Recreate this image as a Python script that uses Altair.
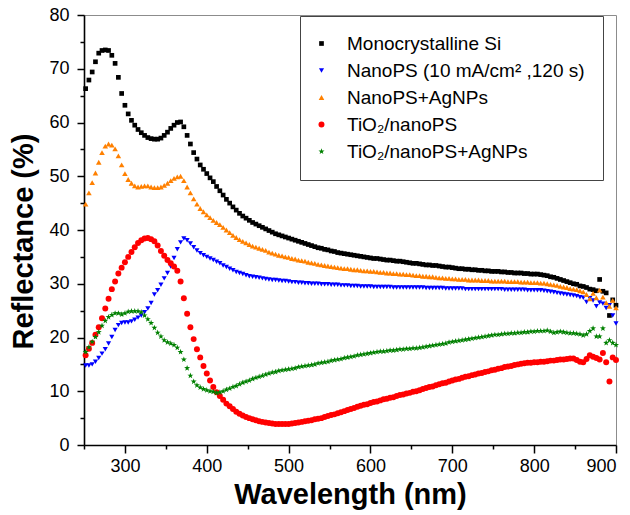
import altair as alt
import pandas as pd

# Sampling grid (nm), one reading every 4 nm
wavelength = list(range(252, 901, 4))

# Reflectance (%) for each sample
mono_si = [
    66.3, 67.9, 69.4, 71.3, 72.9, 73.4, 73.5, 73.4, 72.5, 71.0,
    68.4, 65.4, 63.2, 61.6, 60.4, 59.5, 58.7, 58.1, 57.6, 57.2,
    57.0, 56.9, 56.9, 57.1, 57.6, 58.2, 58.9, 59.5, 60.0, 60.1,
    59.2, 57.6, 56.0, 54.4, 53.2, 52.1, 51.3, 50.5, 49.7, 49.0,
    48.1, 47.3, 46.5, 45.7, 45.0, 44.3, 43.7, 43.1, 42.6, 42.2,
    41.8, 41.4, 41.1, 40.8, 40.5, 40.2, 39.9, 39.6, 39.3, 39.1,
    38.9, 38.7, 38.5, 38.3, 38.1, 37.9, 37.7, 37.5, 37.3, 37.1,
    36.9, 36.7, 36.6, 36.4, 36.3, 36.1, 36.0, 35.8, 35.7, 35.6,
    35.5, 35.4, 35.3, 35.2, 35.1, 35.0, 34.9, 34.8, 34.7, 34.7,
    34.6, 34.5, 34.4, 34.4, 34.3, 34.2, 34.2, 34.1, 34.0, 33.9,
    33.8, 33.8, 33.7, 33.6, 33.5, 33.5, 33.4, 33.4, 33.3, 33.2,
    33.1, 33.1, 33.0, 32.9, 32.8, 32.8, 32.7, 32.7, 32.6, 32.6,
    32.5, 32.5, 32.4, 32.4, 32.3, 32.3, 32.3, 32.2, 32.2, 32.1,
    32.1, 32.0, 32.0, 32.0, 31.9, 31.9, 31.8, 31.8, 31.8, 31.7,
    31.6, 31.5, 31.3, 31.2, 31.0, 30.8, 30.6, 30.4, 30.2, 30.0,
    29.9, 29.6, 29.5, 29.3, 29.0, 28.9, 28.7, 30.8, 28.6, 28.3,
    24.1, 27.0, 26.0,
]

nanops = [
    14.8, 14.8, 15.0, 15.5, 16.2, 17.0, 17.8, 18.9, 20.1, 21.4,
    22.3, 22.7, 22.8, 22.8, 23.0, 23.3, 23.7, 24.1, 24.7, 25.4,
    26.4, 28.0, 28.8, 29.8, 31.0, 32.0, 33.2, 34.8, 36.4, 37.7,
    38.4, 38.1, 37.5, 36.8, 36.2, 35.7, 35.3, 35.0, 34.7, 34.4,
    34.1, 33.8, 33.4, 33.1, 32.8, 32.5, 32.2, 32.0, 31.8, 31.6,
    31.4, 31.3, 31.2, 31.1, 31.0, 30.9, 30.8, 30.7, 30.7, 30.6,
    30.5, 30.5, 30.4, 30.3, 30.3, 30.2, 30.2, 30.1, 30.1, 30.0,
    30.0, 30.0, 29.9, 29.9, 29.9, 29.8, 29.8, 29.8, 29.7, 29.7,
    29.7, 29.6, 29.6, 29.6, 29.5, 29.5, 29.5, 29.5, 29.4, 29.4,
    29.4, 29.4, 29.4, 29.4, 29.3, 29.3, 29.3, 29.3, 29.3, 29.3,
    29.3, 29.3, 29.3, 29.3, 29.2, 29.2, 29.2, 29.2, 29.2, 29.2,
    29.1, 29.1, 29.1, 29.1, 29.1, 29.1, 29.0, 29.0, 29.0, 29.0,
    29.0, 29.0, 29.0, 29.0, 29.0, 29.0, 29.0, 29.0, 28.9, 28.9,
    28.9, 28.9, 28.9, 28.9, 28.9, 28.8, 28.8, 28.8, 28.8, 28.8,
    28.7, 28.6, 28.5, 28.4, 28.3, 28.2, 28.1, 28.0, 27.9, 27.8,
    27.7, 27.5, 27.4, 26.6, 27.3, 26.9, 25.8, 26.5, 26.3, 25.5,
    26.0, 24.1, 22.6,
]

nanops_ag = [
    44.8, 46.9, 48.8, 50.6, 52.6, 54.4, 55.6, 56.0, 55.8, 55.1,
    53.8, 52.1, 50.5, 49.4, 48.7, 48.2, 48.0, 48.1, 48.2, 48.2,
    48.0, 47.9, 47.9, 48.0, 48.3, 48.7, 49.2, 49.6, 49.9, 50.0,
    49.2, 48.0, 46.9, 45.8, 44.8, 44.0, 43.4, 42.8, 42.3, 41.8,
    41.4, 41.0, 40.5, 40.0, 39.5, 39.0, 38.6, 38.2, 37.9, 37.6,
    37.3, 37.0, 36.8, 36.6, 36.4, 36.2, 35.9, 35.7, 35.5, 35.3,
    35.2, 35.0, 34.9, 34.7, 34.6, 34.4, 34.3, 34.2, 34.0, 33.9,
    33.8, 33.6, 33.5, 33.4, 33.3, 33.2, 33.1, 33.0, 32.9, 32.8,
    32.8, 32.7, 32.6, 32.6, 32.5, 32.4, 32.4, 32.3, 32.3, 32.2,
    32.1, 32.1, 32.0, 32.0, 31.9, 31.9, 31.8, 31.8, 31.7, 31.7,
    31.6, 31.5, 31.5, 31.4, 31.4, 31.3, 31.3, 31.2, 31.1, 31.1,
    31.0, 31.0, 30.9, 30.9, 30.8, 30.8, 30.8, 30.7, 30.7, 30.7,
    30.7, 30.6, 30.6, 30.6, 30.5, 30.5, 30.5, 30.5, 30.5, 30.4,
    30.4, 30.4, 30.4, 30.3, 30.3, 30.3, 30.2, 30.2, 30.2, 30.1,
    30.1, 30.0, 29.9, 29.8, 29.7, 29.5, 29.4, 29.3, 29.1, 29.0,
    28.9, 28.7, 28.5, 28.0, 27.2, 28.2, 27.4, 28.8, 27.5, 26.5,
    25.8, 26.9, 25.5,
]

tio2_nanops = [
    16.7, 17.9, 19.0, 20.5, 21.9, 23.6, 25.4, 27.2, 29.0, 30.4,
    31.9, 33.0, 34.0, 35.0, 35.9, 36.8, 37.6, 38.1, 38.4, 38.5,
    38.3, 37.9, 37.1, 36.1, 35.2, 34.4, 33.8, 33.2, 32.4, 30.4,
    27.3, 24.4, 21.9, 19.7, 17.8, 16.3, 14.7, 13.3, 12.0, 10.8,
    9.8, 9.1, 8.4, 7.7, 7.2, 6.7, 6.2, 5.8, 5.5, 5.2,
    5.0, 4.8, 4.6, 4.4, 4.3, 4.2, 4.1, 4.0, 3.9, 3.9,
    3.9, 3.9, 3.9, 4.0, 4.1, 4.2, 4.3, 4.4, 4.5, 4.6,
    4.8, 4.9, 5.0, 5.2, 5.4, 5.6, 5.7, 5.9, 6.1, 6.3,
    6.5, 6.7, 6.9, 7.1, 7.3, 7.5, 7.6, 7.8, 8.0, 8.1,
    8.3, 8.5, 8.6, 8.8, 8.9, 9.1, 9.3, 9.4, 9.6, 9.7,
    9.9, 10.0, 10.2, 10.4, 10.6, 10.8, 10.9, 11.1, 11.3, 11.5,
    11.6, 11.8, 12.0, 12.2, 12.3, 12.5, 12.7, 12.8, 13.0, 13.1,
    13.3, 13.4, 13.6, 13.7, 13.9, 14.0, 14.2, 14.3, 14.5, 14.6,
    14.7, 14.9, 15.0, 15.1, 15.2, 15.3, 15.3, 15.4, 15.4, 15.5,
    15.5, 15.6, 15.7, 15.7, 15.8, 15.9, 15.9, 16.0, 16.1, 16.1,
    15.8, 15.5, 15.4, 16.0, 16.7, 16.4, 16.2, 15.9, 17.1, 15.4,
    11.8, 16.3, 15.8,
]

tio2_nanops_ag = [
    17.3, 18.2, 19.2, 20.1, 21.0, 22.2, 23.1, 23.8, 24.2, 24.5,
    24.5, 24.3, 24.5, 24.8, 24.9, 24.9, 24.9, 24.7, 24.1, 23.4,
    22.7, 21.8, 20.9, 20.2, 19.5, 19.1, 18.9, 18.6, 18.1, 17.3,
    15.9, 14.3, 12.9, 11.8, 11.1, 10.7, 10.4, 10.2, 10.0, 9.9,
    9.7, 9.8, 10.0, 10.3, 10.5, 10.8, 11.0, 11.3, 11.6, 11.8,
    12.0, 12.3, 12.5, 12.7, 12.9, 13.1, 13.3, 13.5, 13.6, 13.8,
    13.9, 14.0, 14.1, 14.2, 14.3, 14.5, 14.6, 14.7, 14.8, 14.9,
    15.0, 15.2, 15.3, 15.4, 15.5, 15.7, 15.8, 15.9, 16.0, 16.2,
    16.3, 16.4, 16.5, 16.7, 16.8, 16.9, 17.0, 17.1, 17.2, 17.3,
    17.4, 17.4, 17.5, 17.6, 17.6, 17.7, 17.8, 17.8, 17.9, 17.9,
    18.0, 18.0, 18.1, 18.2, 18.3, 18.4, 18.5, 18.6, 18.7, 18.8,
    18.9, 19.1, 19.2, 19.3, 19.4, 19.5, 19.6, 19.7, 19.8, 19.9,
    20.0, 20.1, 20.2, 20.3, 20.4, 20.5, 20.5, 20.6, 20.7, 20.7,
    20.8, 20.8, 20.9, 20.9, 21.0, 21.0, 21.1, 21.1, 21.2, 21.2,
    21.2, 21.3, 21.1, 20.9, 21.0, 21.1, 21.0, 20.9, 20.8, 20.8,
    20.7, 20.6, 20.4, 20.6, 21.2, 21.7, 20.2, 20.2, 21.7, 19.0,
    19.5, 19.0, 18.6,
]

series_names = [
    "Monocrystalline Si",
    "NanoPS (10 mA/cm² ,120 s)",
    "NanoPS+AgNPs",
    "TiO₂/nanoPS",
    "TiO₂/nanoPS+AgNPs",
]
series_values = [mono_si, nanops, nanops_ag, tio2_nanops, tio2_nanops_ag]
series_colors = ["#000000", "#0000FF", "#FF8000", "#FF0000", "#008000"]
STAR = ("M0,-1L0.235,-0.324L0.951,-0.309L0.38,0.124L0.588,0.809L0,0.4"
        "L-0.588,0.809L-0.38,0.124L-0.951,-0.309L-0.235,-0.324Z")
series_shapes = ["square", "triangle-down", "triangle-up", "circle", STAR]
series_sizes = [22, 40, 40, 24, 50]

x_ticks = list(range(250, 901, 50))
y_ticks = list(range(0, 81, 5))

rows = []
for order, (name, values) in enumerate(zip(series_names, series_values)):
    assert len(values) == len(wavelength), name
    for wl, r in zip(wavelength, values):
        rows.append({"series": name, "order": order, "wavelength": wl, "reflectance": r})
df = pd.DataFrame(rows)

FONT = "Liberation Sans"

legend = alt.Legend(
    orient="none", legendX=216, legendY=1,
    strokeColor="#444444", padding=18,
    labelFont=FONT, labelFontSize=19, labelColor="black",
    labelOffset=16, symbolOffset=-6, rowPadding=7, labelLimit=400,
)

points = alt.Chart(df).mark_point(filled=True, opacity=1).encode(
    x=alt.X(
        "wavelength:Q",
        scale=alt.Scale(domain=[250, 900], nice=False, zero=False),
        axis=alt.Axis(
            title="Wavelength (nm)", values=x_ticks,
            labelExpr="datum.value % 100 === 0 ? datum.label : ''",
            tickSize={"condition": {"test": "datum.value % 100 === 0", "value": 8}, "value": 4},
            labelPadding=4, titlePadding=5,
        ),
    ),
    y=alt.Y(
        "reflectance:Q",
        scale=alt.Scale(domain=[0, 80], nice=False),
        axis=alt.Axis(
            title="Reflectance (%)", values=y_ticks,
            labelExpr="datum.value % 10 === 0 ? datum.label : ''",
            tickSize={"condition": {"test": "datum.value % 10 === 0", "value": 7}, "value": 4},
            labelPadding=8, titlePadding=10, titleY=226,
        ),
    ),
    color=alt.Color("series:N", title=None,
                    scale=alt.Scale(domain=series_names, range=series_colors), legend=legend),
    shape=alt.Shape("series:N", title=None,
                    scale=alt.Scale(domain=series_names, range=series_shapes), legend=legend),
    size=alt.Size("series:N", title=None,
                  scale=alt.Scale(domain=series_names, range=series_sizes), legend=legend),
    order=alt.Order("order:Q"),
)

chart = points.properties(
    width=532, height=430,
    autosize=alt.AutoSizeParams(type="none"),
    padding={"left": 84, "top": 15, "right": 14, "bottom": 70},
).configure_view(
    stroke="#8c8c8c", strokeWidth=1,
).configure_axis(
    grid=False,
    domainColor="black", domainWidth=1.6,
    tickColor="black", tickWidth=1.5,
    labelFont=FONT, labelFontSize=18, labelColor="black",
    titleFont=FONT, titleFontSize=29, titleFontWeight="bold", titleColor="black",
)

chart.save("out.html", embed_options={"renderer": "svg", "actions": False})
